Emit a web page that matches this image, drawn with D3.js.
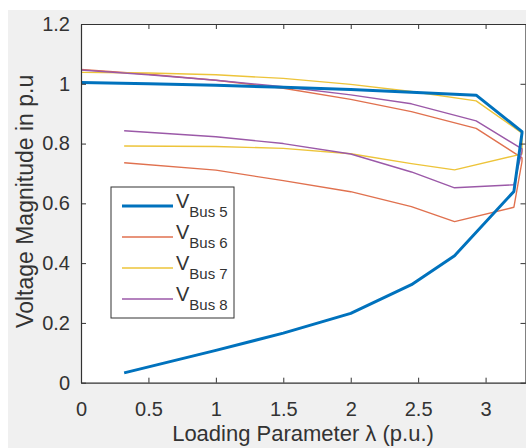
<!DOCTYPE html>
<html lang="en">
<head>
    <meta charset="UTF-8">
    <title>PV curves</title>
    <script src="https://d3js.org/d3.v7.min.js"></script>
    <style>
        body { margin: 0; background: #fff; }
        text { font-family: "Liberation Sans", Arial, sans-serif; fill: #333; }
    </style>
</head>
<body>
    <div id="chart"></div>
    <script>
        // loading parameter: upper branch (0 -> nose) then lower branch (nose -> 0.32)
        const lambda = [0, 0.5, 1.0, 1.5, 2.0, 2.45, 2.93, 3.27, 3.27, 3.21, 2.77, 2.45, 2.0, 1.5, 1.0, 0.32];

        const vBus5 = [1.004, 1.000, 0.995, 0.988, 0.981, 0.972, 0.962, 0.840, 0.835, 0.640, 0.425, 0.328, 0.232, 0.166, 0.108, 0.033];
        const vBus6 = [1.048, 1.032, 1.012, 0.985, 0.948, 0.907, 0.851, 0.752, 0.740, 0.587, 0.539, 0.589, 0.639, 0.676, 0.711, 0.736];
        const vBus7 = [1.038, 1.036, 1.030, 1.018, 0.998, 0.974, 0.943, 0.835, 0.765, 0.759, 0.712, 0.733, 0.766, 0.784, 0.790, 0.792];
        const vBus8 = [1.046, 1.030, 1.012, 0.990, 0.963, 0.933, 0.876, 0.782, 0.775, 0.662, 0.652, 0.705, 0.765, 0.800, 0.823, 0.843];

        const seriesNames = ["Bus 5", "Bus 6", "Bus 7", "Bus 8"];
        const seriesColors = ["#0072BD", "#E0714F", "#EDC43A", "#9B59A8"];
        const seriesWidths = [3, 1.4, 1.4, 1.4];

        const xTicks = [0, 0.5, 1, 1.5, 2, 2.5, 3];
        const yTicks = [0, 0.2, 0.4, 0.6, 0.8, 1, 1.2];

        const width = 526, height = 448;
        const plot = { left: 81, right: 525.5, top: 24, bottom: 382.7 };

        const svg = d3.select("#chart").append("svg")
            .attr("width", width)
            .attr("height", height);

        // figure background (grey, with thin white margin top/left)
        svg.append("rect").attr("x", 8).attr("y", 10)
            .attr("width", width - 8).attr("height", height - 10)
            .attr("fill", "#f0f0f0");
        svg.append("rect").attr("x", plot.left).attr("y", plot.top)
            .attr("width", plot.right - plot.left).attr("height", plot.bottom - plot.top)
            .attr("fill", "#fff");

        const x = d3.scaleLinear().domain([0, 3.296]).range([plot.left, plot.right]);
        const y = d3.scaleLinear().domain([0, 1.2]).range([plot.bottom, plot.top]);

        // clip path for lines
        svg.append("clipPath").attr("id", "clip")
            .append("rect").attr("x", plot.left).attr("y", plot.top)
            .attr("width", plot.right - plot.left).attr("height", plot.bottom - plot.top);

        const allSeries = [vBus5, vBus6, vBus7, vBus8];
        const line = d3.line().x(d => x(d[0])).y(d => y(d[1]));

        const lines = svg.append("g").attr("clip-path", "url(#clip)");
        // draw thin ones first, blue on top
        [1, 2, 3, 0].forEach(i => {
            lines.append("path")
                .datum(lambda.map((l, j) => [l, allSeries[i][j]]))
                .attr("d", line)
                .attr("fill", "none")
                .attr("stroke", seriesColors[i])
                .attr("stroke-width", seriesWidths[i])
                .attr("stroke-linejoin", "round");
        });

        // axes (MATLAB style: box, ticks inward)
        const axisColor = "#333";
        const xAxis = svg.append("g").attr("transform", `translate(0,${plot.bottom})`)
            .call(d3.axisBottom(x).tickValues(xTicks).tickSizeInner(-5).tickSizeOuter(0)
                .tickPadding(19).tickFormat(d3.format("")));
        const xAxisTop = svg.append("g").attr("transform", `translate(0,${plot.top})`)
            .call(d3.axisTop(x).tickValues(xTicks).tickSizeInner(-5).tickSizeOuter(0).tickFormat(""));
        const yAxis = svg.append("g").attr("transform", `translate(${plot.left},0)`)
            .call(d3.axisLeft(y).tickValues(yTicks).tickSizeInner(-5).tickSizeOuter(0)
                .tickPadding(11).tickFormat(d3.format("")));
        const yAxisRight = svg.append("g").attr("transform", `translate(${plot.right},0)`)
            .call(d3.axisRight(y).tickValues(yTicks).tickSizeInner(-5).tickSizeOuter(0).tickFormat(""));

        [xAxis, xAxisTop, yAxis, yAxisRight].forEach(g => {
            g.select(".domain").attr("stroke", axisColor).attr("stroke-width", 1.2);
            g.selectAll(".tick line").attr("stroke", axisColor);
            g.selectAll("text").attr("font-size", 20).attr("fill", axisColor)
                .attr("font-family", "Liberation Sans, Arial, sans-serif");
        });

        // axis labels
        svg.append("text")
            .attr("x", 303).attr("y", 441)
            .attr("text-anchor", "middle")
            .attr("font-size", 22)
            .text("Loading Parameter λ (p.u.)");

        svg.append("text")
            .attr("transform", `translate(33,${(plot.top + plot.bottom) / 2 - 2}) rotate(-90)`)
            .attr("text-anchor", "middle")
            .attr("font-size", 23)
            .text("Voltage Magnitude in p.u");

        // legend
        const legend = svg.append("g");
        legend.append("rect")
            .attr("x", 111).attr("y", 187).attr("width", 123).attr("height", 131)
            .attr("fill", "#fff").attr("stroke", axisColor).attr("stroke-width", 1);

        seriesNames.forEach((name, i) => {
            const ly = 206 + i * 31;
            legend.append("line")
                .attr("x1", 122).attr("x2", 173).attr("y1", ly).attr("y2", ly)
                .attr("stroke", seriesColors[i]).attr("stroke-width", seriesWidths[i]);
            const t = legend.append("text").attr("x", 176).attr("y", ly + 2).attr("font-size", 20);
            t.append("tspan").text("V");
            t.append("tspan").attr("dy", 9).attr("font-size", 15).text(name);
        });
    </script>
</body>
</html>
